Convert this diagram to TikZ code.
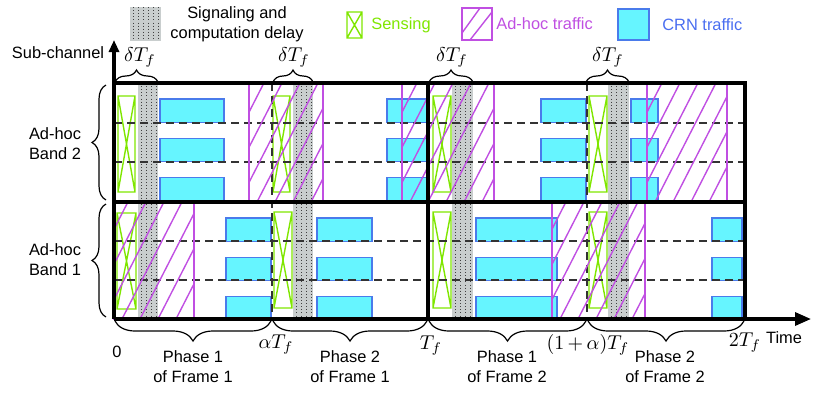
\documentclass[tikz,border=0pt]{standalone}
\usepackage{fontspec}
\setmainfont{Liberation Sans}
\usetikzlibrary{positioning,arrows.meta,decorations.pathreplacing}
\definecolor{DelayGrey}{HTML}{C9CECE}
\definecolor{SenseGreen}{HTML}{7FE600}
\definecolor{AdhocViolet}{HTML}{C04FE2}
\definecolor{CrnCyan}{HTML}{66F5FF}
\definecolor{CrnBlue}{HTML}{4A7BEB}
\definecolor{CrnText}{HTML}{4A6EF0}

\tikzset{
  frameline/.style={line width=1.6pt},
  subline/.style={dash pattern=on 4pt off 2.5pt,line width=0.7pt,black!80},
  delay/.style={fill=DelayGrey},
  delaydots/.style={line width=0.45pt,dash pattern=on 0.45pt off 1.1pt,black!75},
  sensebox/.style={draw=SenseGreen,line width=0.7pt},
  crnbox/.style={draw=CrnBlue,fill=CrnCyan,line width=0.8pt},
  adhoc/.style={draw=AdhocViolet,line width=0.7pt},
  lbl/.style={font=\fontsize{8.2}{10}\selectfont,align=center,inner sep=1pt},
  mathlbl/.style={font=\fontsize{10}{12}\selectfont,inner sep=1pt},
  tbrace/.style={decorate,decoration={brace,amplitude=6pt},line width=0.6pt},
  lbrace/.style={decorate,decoration={brace,amplitude=7pt},line width=0.6pt},
  bbrace/.style={decorate,decoration={brace,amplitude=10pt},line width=0.6pt},
}

% grey dotted column: x1 y1 x2 y2
\newcommand{\delaybox}[4]{%
  \fill[delay] (#1,#2) rectangle (#3,#4);
  \begin{scope}
    \clip (#1,#2) rectangle (#3,#4);
    \foreach \dx in {3,8,...,33} \draw[delaydots] ({#1+\dx},#2) -- ({#1+\dx},#4);
  \end{scope}}
% sensing box with a cross: x1 y1 x2 y2
\newcommand{\sensing}[4]{%
  \draw[sensebox] (#1,#2) rectangle (#3,#4) (#1,#2) -- (#3,#4) (#1,#4) -- (#3,#2);}
% three CRN blocks in one band: x1 x2 top of band
\newcommand{\crnstack}[3]{%
  \foreach \r in {0,39.3,78.6} \draw[crnbox] (#1,{#3+16+\r}) rectangle (#2,{#3+39.3+\r});}
% hatched ad-hoc block: x1 y1 x2 y2
\newcommand{\adhocbox}[4]{%
  \begin{scope}
    \clip (#1,#2) rectangle (#3,#4);
    \foreach \hx in {0,18,...,180} \draw[adhoc] ({#1-64+\hx},#4) -- ++(64,-125);
  \end{scope}
  \draw[adhoc] (#1,#2) rectangle (#3,#4);}

\begin{document}
\begin{tikzpicture}[x=0.5pt,y=-0.5pt]
\useasboundingbox (0,0) rectangle (819,392);

% legend
\delaybox{130}{7}{161}{41}
\node[lbl] (leg-delay) at (237,24) {Signaling and\\computation delay};
\sensing{347}{12}{362}{38}
\node[lbl,anchor=west,text=SenseGreen] (leg-sense) at (369,25) {Sensing};
\draw[adhoc] (462,8) rectangle (492,40);
\draw[adhoc] (462,33) -- (480,8) (470,40) -- (492,12);
\node[lbl,anchor=west,text=AdhocViolet] (leg-adhoc) at (494,24) {Ad-hoc traffic};
\draw[crnbox] (618,9) rectangle (649,40);
\node[lbl,anchor=west,text=CrnText] (leg-crn) at (660,25) {CRN traffic};

% signaling and computation delay
\delaybox{138}{83}{158}{319}
\delaybox{293}{83}{313}{319}
\delaybox{452}{83}{473}{319}
\delaybox{608}{83}{629}{319}

% CRN traffic
\crnstack{160}{224}{83}
\crnstack{387}{427}{83}
\crnstack{541}{586}{83}
\crnstack{631}{658}{83}
\crnstack{226}{271}{202}
\crnstack{317}{372}{202}
\crnstack{476}{557}{202}
\crnstack{712}{742}{202}

% sensing
\sensing{118}{96}{135}{192}
\sensing{273}{96}{290}{192}
\sensing{433}{96}{451}{192}
\sensing{589}{96}{607}{192}
\sensing{117}{213}{136}{309}
\sensing{274}{212}{292}{308}
\sensing{433}{212}{451}{308}
\sensing{589}{212}{607}{308}

% sub-channels and phase borders
\foreach \y in {123,162,241,280} \draw[subline] (114,\y) -- (745,\y);
\foreach \x in {272,587} \draw[subline] (\x,83) -- (\x,319);

% ad-hoc traffic
\adhocbox{249}{83}{323}{202}
\adhocbox{402}{83}{494}{202}
\adhocbox{647}{83}{727}{202}
\adhocbox{114}{202}{194}{319}
\adhocbox{552}{202}{645}{319}

% frame
\draw[frameline] (114,83) -- (745,83) -- (745,319);
\draw[frameline] (114,202) -- (745,202);
\draw[frameline] (428,83) -- (428,319);

% axes
\coordinate (orig) at (114,319);
\coordinate (tend) at (811,319);
\coordinate (yend) at (114,40);
\draw[frameline,-{Triangle[length=8pt,width=6.5pt]}] (orig) -- (tend);
\draw[frameline,-{Triangle[length=6pt,width=5pt]}] (orig) -- (yend);
\node[lbl] (ylab) at (58,53) {Sub-channel};
\node[lbl] (tlab) at (784,338) {Time};

% delta T_f braces
\draw[tbrace] (115,82) -- (158,82);
\draw[tbrace] (273,82) -- (313,82);
\draw[tbrace] (429,82) -- (473,82);
\draw[tbrace] (586,82) -- (629,82);
\node[mathlbl] (d1) at (140,57) {$\delta T_f$};
\node[mathlbl] (d2) at (294,57) {$\delta T_f$};
\node[mathlbl] (d3) at (452,57) {$\delta T_f$};
\node[mathlbl] (d4) at (608,57) {$\delta T_f$};

% bands
\draw[lbrace] (106,200) -- (106,85);
\draw[lbrace] (106,317) -- (106,204);
\node[lbl] (band2) at (55,144) {Ad-hoc\\Band 2};
\node[lbl] (band1) at (55,260) {Ad-hoc\\Band 1};

% phases
\draw[bbrace] (271,321) -- (115,321);
\draw[bbrace] (427,321) -- (273,321);
\draw[bbrace] (586,321) -- (429,321);
\draw[bbrace] (744,321) -- (588,321);
\node[lbl] (t0) at (117,352) {0};
\node[mathlbl] (ta) at (276,345) {$\alpha T_f$};
\node[mathlbl] (t1) at (431,346) {$T_f$};
\node[mathlbl] (t1a) at (588,345) {$(1\,{+}\,\alpha)T_f$};
\node[mathlbl] (t2) at (745,343) {$2T_f$};
\node[lbl] (p11) at (193,367) {Phase 1\\of Frame 1};
\node[lbl] (p21) at (350,367) {Phase 2\\of Frame 1};
\node[lbl] (p12) at (507,367) {Phase 1\\of Frame 2};
\node[lbl] (p22) at (665,367) {Phase 2\\of Frame 2};
\end{tikzpicture}
\end{document}
